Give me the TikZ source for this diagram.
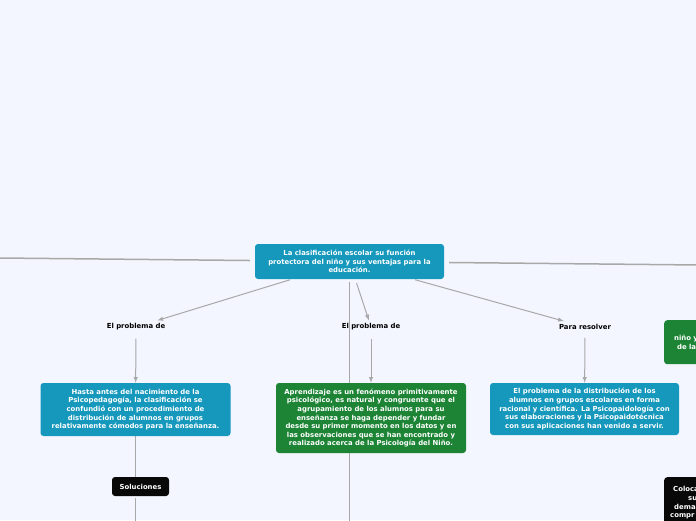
\documentclass[tikz,border=0pt]{standalone}
\usepackage{fontspec}
\setmainfont{DejaVu Sans}
\usepackage{xcolor}
\usetikzlibrary{arrows}
\usetikzlibrary{backgrounds}

\definecolor{bgcol}{HTML}{F3F6FE}
\definecolor{tealcol}{HTML}{1598BC}
\definecolor{greencol}{HTML}{1C8434}
\definecolor{darkcol}{HTML}{080808}
\definecolor{linecol}{HTML}{A8A8A8}

\tikzset{
  boxfont/.style={font=\bfseries\fontsize{6.9}{8.6}\selectfont},
  topicbox/.style={boxfont, rounded corners=3pt, text=white, align=center, inner sep=0pt},
  tealbox/.style={topicbox, fill=tealcol},
  greenbox/.style={topicbox, fill=greencol},
  darkbox/.style={topicbox, fill=darkcol},
  linklabel/.style={boxfont, text=black, inner sep=3pt},
  conn/.style={draw=linecol, line width=1pt},
  sideconn/.style={draw=linecol, line width=1.5pt, shorten <=5pt},
}

\begin{document}
\begin{tikzpicture}[x=1pt, y=-1pt]
\useasboundingbox (0,0) rectangle (696,520);

% central topic
\node[tealbox, minimum width=189pt, minimum height=35pt] (root) at (349.5,261.5)
  {La clasificación escolar su función\\protectora del niño y sus ventajas para la\\educación.};

% labels
\node[linklabel] (lab1) at (136,327) {El problema de};
\node[linklabel] (lab2) at (371,327) {El problema de};
\node[linklabel] (lab3) at (585,327) {Para resolver};

% subtopics
\node[tealbox, minimum width=190pt, minimum height=53pt] (box1) at (135.5,409.5)
  {Hasta antes del nacimiento de la\\Psicopedagogía, la clasificación se\\confundió con un procedimiento de\\distribución de alumnos en grupos\\relativamente cómodos para la enseñanza.};
\node[greenbox, minimum width=190pt, minimum height=70pt] (box2) at (371,418)
  {Aprendizaje es un fenómeno primitivamente\\psicológico, es natural y congruente que el\\agrupamiento de los alumnos para su\\enseñanza se haga depender y fundar\\desde su primer momento en los datos y en\\las observaciones que se han encontrado y\\realizado acerca de la Psicología del Niño.};
\node[tealbox, minimum width=189pt, minimum height=52pt] (box3) at (584.5,409)
  {El problema de la distribución de los\\alumnos en grupos escolares en forma\\racional y científica. La Psicopaidología con\\sus elaboraciones y la Psicopaidotécnica\\con sus aplicaciones han venido a servir.};

\node[darkbox, minimum width=57pt, minimum height=19pt] (sol) at (140.5,486.5) {Soluciones};

% cut topics at the right edge
\node[greenbox, anchor=north west, minimum width=80pt, minimum height=44pt,
  align=left, text width=70pt, inner xsep=10pt] (edgegreen) at (664,320)
  {niño y\\\hspace*{3pt}de la};
\node[darkbox, anchor=north west, minimum width=80pt, minimum height=60pt,
  align=left, text width=74pt, inner xsep=6pt, inner ysep=3pt] (edgedark) at (664,477)
  {\hspace*{3pt}Coloca\\\hspace*{18pt}su\\\hspace*{4pt}dema\\compr\\\hspace*{2pt}para};

% ends outside the page
\coordinate (offleft) at (-20,257.8);
\coordinate (offright) at (720,265.2);
\coordinate (offdown) at (349.5,545);
\coordinate (offsol) at (135.5,545);

\begin{scope}[on background layer]
\fill[bgcol] (0,0) rectangle (696,520);

\draw[sideconn] (root) -- (offleft);
\draw[sideconn] (root) -- (offright);
\draw[conn, shorten <=3pt] (root) -- (offdown);

\draw[conn, -latex, shorten <=2pt] (root) -- (lab1);
\draw[conn, -latex, shorten <=4pt] (root) -- (lab2);
\draw[conn, -latex, shorten <=2pt] (root) -- (lab3);

\draw[conn, -latex, shorten <=5pt] (lab1) -- (box1);
\draw[conn, -latex, shorten <=5pt] (lab2) -- (box2);
\draw[conn, -latex, shorten <=5pt] (lab3) -- (box3);

\draw[conn] (box1) -- (box1 |- sol.north);
\draw[conn, shorten <=2pt] (box1 |- sol.south) -- (offsol);
\end{scope}

\end{tikzpicture}
\end{document}
